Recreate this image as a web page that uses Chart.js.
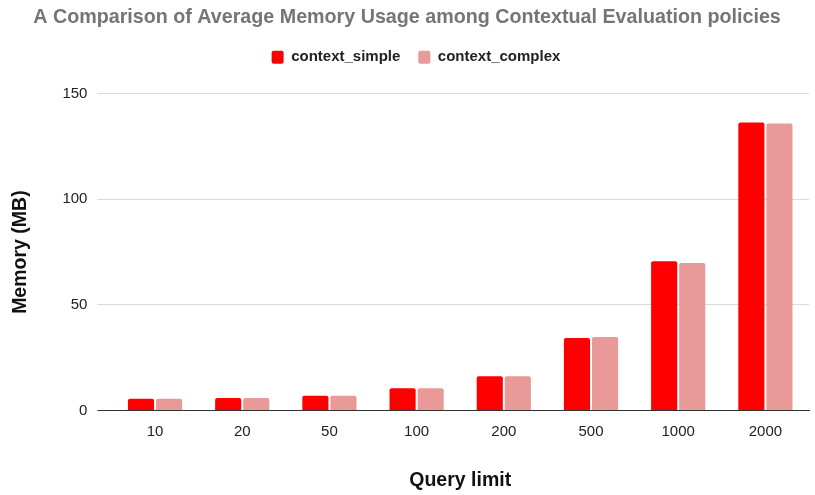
<!DOCTYPE html>
<html lang="en">
<head>
    <meta charset="UTF-8">
    <title>Average Memory Usage</title>
    <script src="https://cdn.jsdelivr.net/npm/chart.js"></script>
    <style>
        body {
            margin: 0;
            background-color: #fff;
        }
        .chart-container {
            width: 815px;
            height: 495px;
        }
    </style>
</head>
<body>
    <div class="chart-container">
        <canvas id="memoryChart"></canvas>
    </div>

    <script>
        // Query limits on the x axis
        const queryLimits = ['10', '20', '50', '100', '200', '500', '1000', '2000'];

        // Average memory (MB)
        const contextSimple = [5.6, 6.0, 7.0, 10.6, 16.2, 34.3, 70.7, 136.4];
        const contextComplex = [5.6, 6.0, 7.0, 10.6, 16.2, 34.8, 69.8, 135.9];

        const yTicks = [0, 50, 100, 150];

        Chart.defaults.font.family = "'Liberation Sans', Arial, sans-serif";

        // zero line is dark, the rest light gray
        const gridColor = ctx => (ctx.tick && ctx.tick.value === 0) ? '#333' : '#dadada';

        // extra room under the legend, and nudge it a bit right
        const legendTweak = {
            id: 'legendTweak',
            beforeInit(chart) {
                const fit = chart.legend.fit;
                chart.legend.fit = function () {
                    fit.call(this);
                    this.height += 19;
                };
            },
            afterLayout(chart) {
                chart.legend.left += 9;
                chart.legend.right += 9;
            }
        };

        new Chart(document.getElementById('memoryChart'), {
            type: 'bar',
            data: {
                labels: queryLimits,
                datasets: [{
                    label: 'context_simple',
                    data: contextSimple,
                    backgroundColor: '#ff0000',
                    borderRadius: 2,
                    barPercentage: 0.93,
                    categoryPercentage: 0.644
                }, {
                    label: 'context_complex',
                    data: contextComplex,
                    backgroundColor: '#ea9999',
                    borderRadius: 2,
                    barPercentage: 0.93,
                    categoryPercentage: 0.644
                }]
            },
            plugins: [legendTweak],
            options: {
                responsive: true,
                maintainAspectRatio: false,
                animation: false,
                layout: {
                    padding: { left: 5, right: 6, top: 2, bottom: 0 }
                },
                plugins: {
                    title: {
                        display: true,
                        text: 'A Comparison of Average Memory Usage among Contextual Evaluation policies',
                        color: '#757575',
                        font: { size: 19.7, weight: 'bold' },
                        padding: { top: 4, bottom: 2 }
                    },
                    legend: {
                        position: 'top',
                        labels: {
                            color: '#222',
                            font: { size: 15, weight: 'bold' },
                            boxWidth: 12,
                            boxHeight: 13,
                            useBorderRadius: true,
                            borderRadius: 2,
                            padding: 18
                        }
                    },
                    tooltip: { enabled: false }
                },
                scales: {
                    x: {
                        grid: { display: false, drawTicks: false },
                        border: { color: '#333', width: 1 },
                        ticks: {
                            color: '#222',
                            font: { size: 15 },
                            padding: 12
                        },
                        title: {
                            display: true,
                            text: 'Query limit',
                            color: '#111',
                            font: { size: 19.5, weight: 'bold' },
                            padding: { top: 16, bottom: 3 }
                        }
                    },
                    y: {
                        min: 0,
                        max: 150,
                        afterBuildTicks: axis => {
                            axis.ticks = yTicks.map(v => ({ value: v }));
                        },
                        grid: {
                            color: gridColor,
                            tickColor: gridColor,
                            drawTicks: true,
                            tickLength: 14
                        },
                        border: { display: false },
                        ticks: {
                            color: '#222',
                            font: { size: 15 },
                            padding: 10
                        },
                        title: {
                            display: true,
                            text: 'Memory (MB)',
                            color: '#111',
                            font: { size: 19.5, weight: 'bold' },
                            padding: { bottom: 20 }
                        }
                    }
                }
            }
        });
    </script>
</body>
</html>
